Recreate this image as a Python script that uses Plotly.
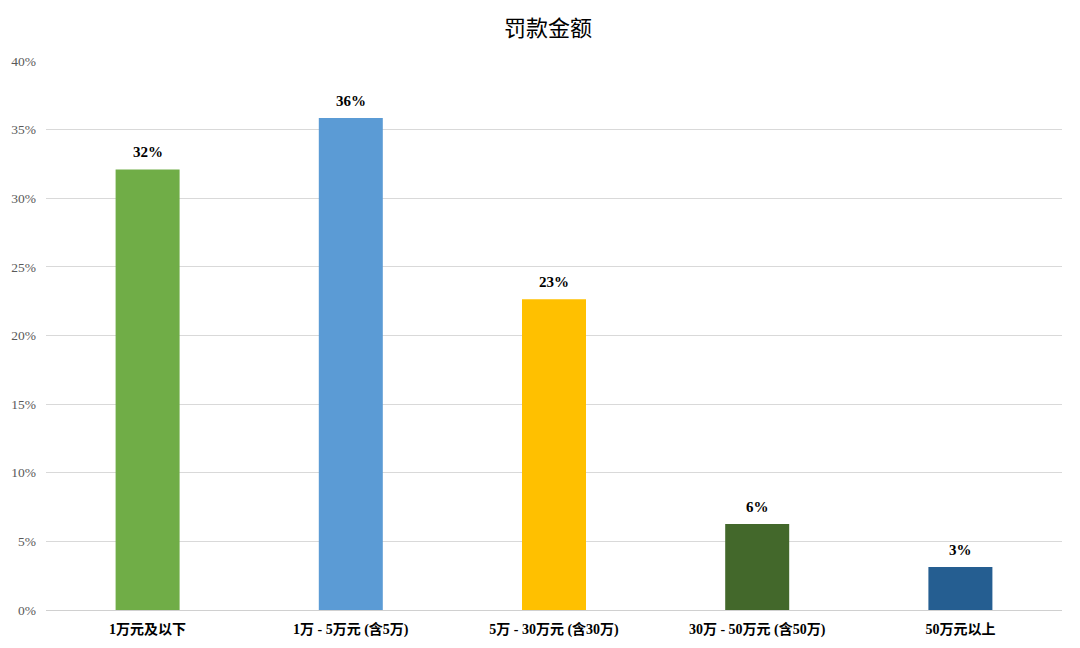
import plotly.graph_objects as go

categories = ["1万元及以下", "1万 - 5万元 (含5万)", "5万 - 30万元 (含30万)", "30万 - 50万元 (含50万)", "50万元以上"]
values = [32.1, 35.85, 22.65, 6.27, 3.13]
colors = ["#70AD47", "#5B9BD5", "#FFC000", "#43682B", "#255E91"]
tick_vals = [0, 5, 10, 15, 20, 25, 30, 35, 40]
tick_text = ["0%", "5%", "10%", "15%", "20%", "25%", "30%", "35%", "40%"]

serif = "Liberation Serif, Times New Roman, Noto Sans CJK SC, serif"

fig = go.Figure(go.Bar(
    x=categories,
    y=values,
    marker=dict(color=colors, line=dict(width=0)),
    hoverinfo="skip",
))

for c, v in zip(categories, values):
    fig.add_annotation(
        x=c, y=v, text=f"<b>{round(v)}%</b>", showarrow=False,
        xanchor="center", yanchor="bottom", yshift=7,
        font=dict(family=serif, size=15, color="#000000"),
    )

fig.update_layout(
    width=1080, height=648,
    paper_bgcolor="white", plot_bgcolor="white",
    margin=dict(l=38, r=26, t=53, b=46, autoexpand=False),
    title=dict(text="罚款金额", x=0.5, xanchor="center", y=1 - 20 / 648, yanchor="middle",
               font=dict(family=serif, size=22, color="#000000")),
    bargap=0.685,
    showlegend=False,
    xaxis=dict(
        tickfont=dict(family=serif, size=14, color="#000000", weight="bold"),
        showline=True, linecolor="#d0d0d0", linewidth=1,
        ticks="", showgrid=False, ticklabelstandoff=6, automargin=False,
    ),
    yaxis=dict(
        range=[0, 40], tickvals=tick_vals, ticktext=tick_text,
        tickfont=dict(family=serif, size=13.5, color="#595959"),
        showgrid=True, gridcolor="#d9d9d9", gridwidth=1,
        zeroline=False, ticks="", showline=False,
        ticklabelstandoff=9, automargin=False,
    ),
)

fig.write_html("out.html")
